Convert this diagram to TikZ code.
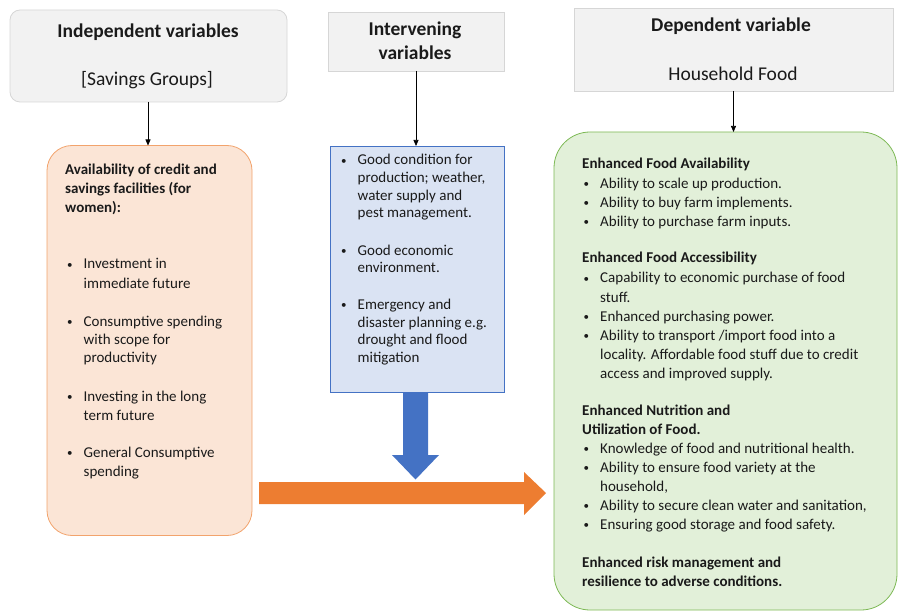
\documentclass[tikz,border=0pt]{standalone}
\usepackage{fontspec}
\setmainfont{Carlito}
\usetikzlibrary{arrows.meta}
\definecolor{gfill}{HTML}{F2F2F2}
\definecolor{gline}{HTML}{D6D6D6}
\definecolor{ofill}{HTML}{FBE5D6}
\definecolor{oline}{HTML}{F2A36C}
\definecolor{bfill}{HTML}{DAE3F3}
\definecolor{bline}{HTML}{4472C4}
\definecolor{grfill}{HTML}{E2F0D9}
\definecolor{grline}{HTML}{7DB955}
\definecolor{oarrow}{HTML}{ED7D31}
\definecolor{barrow}{HTML}{4472C4}
\definecolor{ink}{HTML}{1A1A1A}
\newcommand\txtline[4]{\node[txt] (#1) at (#2,#3) {#4};}
\newcommand\boldline[4]{\node[txtb] (#1) at (#2,#3) {#4};}
\newcommand\bulline[4]{\node[txt] (#1) at (#2,#3) {\makebox[16.5pt][l]{\raisebox{0.6pt}{\fontsize{11}{11}\selectfont\textbullet}}#4};}
\begin{document}
\begin{tikzpicture}[x=1pt,y=-1pt,
  box/.style={draw, line width=0.8pt, inner sep=0pt, outer sep=0pt},
  graybox/.style={box, draw=gline, fill=gfill},
  txt/.style={anchor=base west, inner sep=0pt, text=ink, font=\fontsize{15}{18.5}\selectfont},
  txtb/.style={txt, font=\fontsize{15}{18.5}\selectfont\bfseries},
  head/.style={anchor=base, inner sep=0pt, text=ink, font=\fontsize{19.5}{24}\selectfont},
  headb/.style={head, font=\fontsize{19.5}{24}\selectfont\bfseries},
  conn/.style={line width=0.7pt, -{Triangle[width=5pt,length=6pt]}}]
\useasboundingbox (0,0) rectangle (899,612);
% top boxes
\node[graybox, rounded corners=10pt, minimum width=277pt, minimum height=92pt] (indep) at (148.5,56) {};
\node[graybox, minimum width=176pt, minimum height=59pt] (interv) at (416,41.5) {};
\node[graybox, minimum width=319pt, minimum height=83pt] (dep) at (733.5,49.5) {};
\node[headb] (indepT) at (148,37.5) {Independent variables};
\node[head] (indepS) at (147,86) {[Savings Groups]};
\node[headb] (intervT1) at (415,36) {Intervening};
\node[headb] (intervT2) at (415,60) {variables};
\node[headb] (depT) at (731,31.5) {Dependent variable};
\node[head] (depS) at (733,80.5) {Household Food};
% main boxes
\node[box, draw=oline, fill=ofill, rounded corners=25pt, minimum width=205pt, minimum height=390pt] (orange) at (149.5,340.5) {};
\node[box, draw=bline, fill=bfill, minimum width=174pt, minimum height=246pt] (blue) at (417.5,269) {};
\node[box, draw=grline, fill=grfill, rounded corners=36pt, minimum width=343pt, minimum height=478pt] (green) at (725.5,371) {};
% connectors
\coordinate (indepOut) at (148,102);
\draw[conn] (indepOut) -- (indepOut |- orange.north);
\draw[conn] (interv.south) -- (interv.south |- blue.north);
\draw[conn] (dep.south) -- (dep.south |- green.north);
% block arrows
\fill[barrow] (403,392.5) -- (428,392.5) -- (428,455) -- (439,455) -- (415.5,479.5) -- (392,455) -- (403,455) -- cycle;
\fill[oarrow] (259,482) -- (524,482) -- (524,472) -- (546,493) -- (524,515) -- (524,504) -- (259,504) -- cycle;
% orange box text
\boldline{o1}{65}{175}{Availability of credit and}
\boldline{o2}{65}{194}{savings facilities (for}
\boldline{o3}{65}{213}{women):}
\bulline{o4}{67}{269}{Investment in}
\txtline{o5}{83.5}{288}{immediate future}
\bulline{o6}{67}{326.5}{Consumptive spending}
\txtline{o7}{83.5}{344.5}{with scope for}
\txtline{o8}{83.5}{362.5}{productivity}
\bulline{o9}{67}{401.5}{Investing in the long}
\txtline{o10}{83.5}{420}{term future}
\bulline{o11}{67}{457.5}{General Consumptive}
\txtline{o12}{83.5}{476}{spending}
% blue box text
\bulline{b1}{341}{165}{Good condition for}
\txtline{b2}{357.5}{182.7}{production; weather,}
\txtline{b3}{357.5}{200.3}{water supply and}
\txtline{b4}{357.5}{218}{pest management.}
\bulline{b5}{341}{255}{Good economic}
\txtline{b6}{357.5}{272.5}{environment.}
\bulline{b7}{341}{309}{Emergency and}
\txtline{b8}{357.5}{327}{disaster planning e.g.}
\txtline{b9}{357.5}{344.5}{drought and flood}
\txtline{b10}{357.5}{362}{mitigation}
% green box text
\boldline{g1}{582}{169}{Enhanced Food Availability}
\boldline{g5}{582}{263}{Enhanced Food Accessibility}
\boldline{g12}{582}{415}{Enhanced Nutrition and}
\boldline{g13}{582}{434}{Utilization of Food.}
\boldline{g19}{582}{567}{Enhanced risk management and}
\boldline{g20}{582}{586}{resilience to adverse conditions.}
\bulline{g2}{583.5}{188.5}{Ability to scale up production.}
\bulline{g3}{583.5}{207.5}{Ability to buy farm implements.}
\bulline{g4}{583.5}{226.5}{Ability to purchase farm inputs.}
\bulline{g6}{583.5}{283}{Capability to economic purchase of food}
\txtline{g7}{600}{302}{stuff.}
\bulline{g8}{583.5}{321}{Enhanced purchasing power.}
\bulline{g9}{583.5}{340}{Ability to transport /import food into a}
\txtline{g10}{600}{359}{locality. Affordable food stuff due to credit}
\txtline{g11}{600}{378}{access and improved supply.}
\bulline{g14}{583.5}{453}{Knowledge of food and nutritional health.}
\bulline{g15}{583.5}{472}{Ability to ensure food variety at the}
\txtline{g16}{600}{491}{household,}
\bulline{g17}{583.5}{510}{Ability to secure clean water and sanitation,}
\bulline{g18}{583.5}{529}{Ensuring good storage and food safety.}
\end{tikzpicture}
\end{document}
